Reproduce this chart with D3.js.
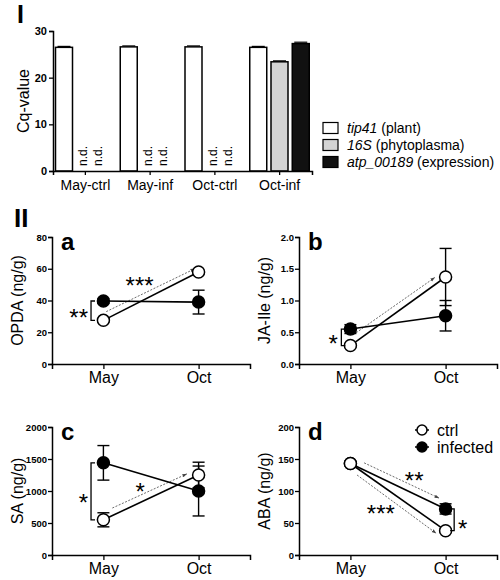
<!DOCTYPE html>
<html><head><meta charset="utf-8">
<script src="https://cdn.jsdelivr.net/npm/d3@7"></script>
<style>body{margin:0;background:#fff}svg{display:block}text{font-family:"Liberation Sans",Arial,sans-serif}</style>
</head><body><svg id="c" width="500" height="580"></svg>
<script>
// ---------- Panel I data ----------
const groups = ["May-ctrl","May-inf","Oct-ctrl","Oct-inf"];
const genes = ["tip41","16S","atp_00189"];
const geneLabels = [["tip41"," (plant)"],["16S"," (phytoplasma)"],["atp_00189"," (expression)"]];
const geneColors = ["#ffffff","#d4d4d4","#111111"];
const tip41Cq = [26.5, 26.6, 26.6, 26.5];
const s16Cq = [null, null, null, 23.4];
const atpCq = [null, null, null, 27.3];
const cqErr = [0.2, 0.2, 0.3];
const cqTicks = [0,10,20,30];

// ---------- Panel II data ----------
const months = ["May","Oct"];
const opdaCtrl = [27.5, 58], opdaCtrlErr = [1, 1];
const opdaInf = [39.7, 39], opdaInfErr = [1.5, 7.5];
const jaCtrl = [0.29, 1.37], jaCtrlErr = [0.03, 0.45];
const jaInf = [0.55, 0.76], jaInfErr = [0.07, 0.24];
const saCtrl = [550, 1250], saCtrlErr = [110, 200];
const saInf = [1440, 1000], saInfErr = [270, 390];
const abaCtrl = [143, 38], abaCtrlErr = [3, 3];
const abaInf = [143, 72], abaInfErr = [3, 8];

const svg = d3.select("#c");
const defs = svg.append("defs");
defs.append("marker").attr("id","ah").attr("viewBox","0 0 10 10").attr("refX",9).attr("refY",5)
  .attr("markerWidth",6).attr("markerHeight",6).attr("orient","auto")
  .append("path").attr("d","M0,1.5 L10,5 L0,8.5 Z").attr("fill","#444");

function styleAxis(g, fs){
  g.selectAll(".domain").attr("stroke","#000").attr("stroke-width",1.5);
  g.selectAll(".tick line").attr("stroke","#000").attr("stroke-width",1.3);
  g.selectAll(".tick text").attr("font-size",fs).attr("font-weight","bold").attr("fill","#000")
   .attr("font-family","'Liberation Sans',Arial,sans-serif");
}

// ---------- Panel I ----------
svg.append("text").attr("x",17).attr("y",23).attr("font-size",25).attr("font-weight","bold").text("I");
const yI = d3.scaleLinear().domain([0,30]).range([171,31]);
const xI = d3.scaleBand().domain(groups).range([53,312]);
const xInner = d3.scaleBand().domain(genes).range([2.5,62]).paddingInner(0.2).paddingOuter(0);
const gI = svg.append("g");
const barData = [];
groups.forEach((g,i)=>{
  [tip41Cq, s16Cq, atpCq].forEach((arr,j)=>{ if(arr[i]!=null) barData.push({g, gene:genes[j], v:arr[i], e:cqErr[j], c:geneColors[j]}); });
});
gI.selectAll("line.err").data(barData).join("line")
  .attr("x1",d=>xI(d.g)+xInner(d.gene)+2).attr("x2",d=>xI(d.g)+xInner(d.gene)+xInner.bandwidth()-2)
  .attr("y1",d=>yI(d.v+d.e)).attr("y2",d=>yI(d.v+d.e)).attr("stroke","#000").attr("stroke-width",1.2);
gI.selectAll("rect").data(barData).join("rect")
  .attr("x",d=>xI(d.g)+xInner(d.gene)).attr("width",xInner.bandwidth())
  .attr("y",d=>yI(d.v)).attr("height",d=>yI(0)-yI(d.v))
  .attr("fill",d=>d.c).attr("stroke","#000").attr("stroke-width",1.5);
// n.d. labels
groups.forEach((g,i)=>{
  [[s16Cq,34],[atpCq,49]].forEach(([arr,off])=>{
    if(arr[i]==null){
      gI.append("text").attr("transform",`translate(${xI(g)+off},${yI(0)-5}) rotate(-90)`)
        .attr("font-size",12).text("n.d.");
    }
  });
});
const axYI = svg.append("g").attr("transform","translate(53,0)").call(d3.axisLeft(yI).tickValues(cqTicks).tickSize(4).tickPadding(2));
styleAxis(axYI, 11);
const axXI = svg.append("g").attr("transform",`translate(0,${yI(0)})`).call(d3.axisBottom(xI).tickSize(4).tickPadding(5));
styleAxis(axXI, 14);
axXI.selectAll(".tick text").attr("font-weight","normal");
svg.append("text").attr("transform","translate(29,101) rotate(-90)").attr("text-anchor","middle").attr("font-size",16).text("Cq-value");
// legend
const legI = svg.append("g");
geneLabels.forEach((lab,i)=>{
  const y = 128 + i*17;
  legI.append("rect").attr("x",323).attr("y",y-5.5).attr("width",15).attr("height",11)
    .attr("fill",geneColors[i]).attr("stroke","#000").attr("stroke-width",1.2);
  const t = legI.append("text").attr("x",347).attr("y",y+5).attr("font-size",14);
  t.append("tspan").attr("font-style","italic").text(lab[0]);
  t.append("tspan").text(lab[1]);
});

// ---------- Panel II ----------
svg.append("text").attr("x",14).attr("y",227).attr("font-size",26).attr("font-weight","bold").text("II");

function panel(o){
  const {x0, yBase, yTop, dom, ticks, fmt, ctrl, ctrlErr, inf, infErr, ylab, letter} = o;
  const g = svg.append("g");
  const y = d3.scaleLinear().domain(dom).range([yBase, yTop]);
  const x = d3.scalePoint().domain(months).range([x0, x0+198]).padding(0.54);
  const xi = t => x("May") + t*(x("Oct")-x("May"));
  const ay = g.append("g").attr("transform",`translate(${x0},0)`).call(d3.axisLeft(y).tickValues(ticks).tickFormat(fmt).tickSize(4).tickPadding(1));
  styleAxis(ay, 9.5);
  const ax = g.append("g").attr("transform",`translate(0,${yBase})`).call(d3.axisBottom(x).tickSize(5).tickPadding(3));
  styleAxis(ax, 16);
  ax.selectAll(".tick text").attr("font-weight","normal");
  g.append("text").attr("transform",`translate(${x0-29},${(yBase+yTop)/2}) rotate(-90)`)
    .attr("text-anchor","middle").attr("font-size",16).text(ylab);
  g.append("text").attr("x",x0+9).attr("y",yTop+13).attr("font-size",24).attr("font-weight","bold").text(letter);
  (o.arrows||[]).forEach(a=>{
    g.append("line").attr("x1",xi(a[0])).attr("y1",y(a[1])).attr("x2",xi(a[2])).attr("y2",y(a[3]))
      .attr("stroke","#444").attr("stroke-width",0.8).attr("stroke-dasharray","2,1.5").attr("marker-end","url(#ah)");
  });
  const series = [{v:inf,e:infErr,fill:"#000"},{v:ctrl,e:ctrlErr,fill:"#fff"}];
  series.forEach(s=>{
    const pts = months.map((m,i)=>({x:x(m), v:s.v[i], e:s.e[i]}));
    pts.forEach(p=>{
      g.append("line").attr("x1",p.x).attr("x2",p.x).attr("y1",y(p.v-p.e)).attr("y2",y(p.v+p.e)).attr("stroke","#000").attr("stroke-width",1.4);
      [p.v-p.e,p.v+p.e].forEach(v=>g.append("line").attr("x1",p.x-6).attr("x2",p.x+6).attr("y1",y(v)).attr("y2",y(v)).attr("stroke","#000").attr("stroke-width",1.4));
    });
    g.append("path").attr("d",d3.line().x(p=>p.x).y(p=>y(p.v))(pts)).attr("stroke","#000").attr("stroke-width",1.6).attr("fill","none");
  });
  series.forEach(s=>{
    months.forEach((m,i)=>{
      g.append("circle").attr("cx",x(m)).attr("cy",y(s.v[i])).attr("r",6).attr("fill",s.fill).attr("stroke","#000").attr("stroke-width",1.5);
    });
  });
  (o.brackets||[]).forEach(b=>{
    const bx = xi(b.t), dir = b.dir;
    const ya = y(b.a), yb = y(b.b);
    g.append("path").attr("d",`M${bx+dir*4},${ya} H${bx} V${yb} H${bx+dir*4}`).attr("fill","none").attr("stroke","#000").attr("stroke-width",1.3);
  });
  (o.stars||[]).forEach(s=>{
    g.append("text").attr("x",xi(s[0])).attr("y",y(s[1])+14).attr("text-anchor","middle").attr("font-size",24).text(s[2]);
  });
  return {g, x, y, xi};
}

panel({x0:52, yBase:364, yTop:237, dom:[0,80], ticks:[0,20,40,60,80], fmt:d3.format("d"),
  ctrl:opdaCtrl, ctrlErr:opdaCtrlErr, inf:opdaInf, infErr:opdaInfErr, ylab:"OPDA (ng/g)", letter:"a",
  arrows:[[0.03,33,0.96,60]],
  brackets:[{t:-0.13,a:27.5,b:39.7,dir:1}],
  stars:[[-0.26,32.8,"**"],[0.38,53,"***"]]});

panel({x0:299, yBase:364, yTop:237, dom:[0,2], ticks:[0,0.5,1,1.5,2], fmt:d3.format(".1f"),
  ctrl:jaCtrl, ctrlErr:jaCtrlErr, inf:jaInf, infErr:jaInfErr, ylab:"JA-Ile (ng/g)", letter:"b",
  arrows:[[0.03,0.46,0.885,1.36]],
  brackets:[{t:-0.095,a:0.29,b:0.55,dir:1}],
  stars:[[-0.18,0.41,"*"]]});

panel({x0:52, yBase:555, yTop:427, dom:[0,2000], ticks:[0,500,1000,1500,2000], fmt:d3.format("d"),
  ctrl:saCtrl, ctrlErr:saCtrlErr, inf:saInf, infErr:saInfErr, ylab:"SA (ng/g)", letter:"c",
  arrows:[[0.094,734,0.875,1266]],
  brackets:[{t:-0.13,a:550,b:1440,dir:1}],
  stars:[[-0.21,906,"*"],[0.385,1078,"*"]]});

panel({x0:299, yBase:555, yTop:427, dom:[0,200], ticks:[0,50,100,150,200], fmt:d3.format("d"),
  ctrl:abaCtrl, ctrlErr:abaCtrlErr, inf:abaInf, infErr:abaInfErr, ylab:"ABA (ng/g)", letter:"d",
  arrows:[[0.144,144,0.93,89],[0.07,125,0.90,34]],
  brackets:[{t:1.09,a:38,b:72,dir:-1}],
  stars:[[0.67,125,"**"],[0.32,73,"***"],[1.18,50,"*"]]});

// legend panel d
const legD = svg.append("g");
[["ctrl","#fff"],["infected","#000"]].forEach((l,i)=>{
  const y = 430 + i*17;
  legD.append("line").attr("x1",415).attr("x2",429).attr("y1",y).attr("y2",y).attr("stroke","#000").attr("stroke-width",1.5);
  legD.append("circle").attr("cx",422).attr("cy",y).attr("r",5).attr("fill",l[1]).attr("stroke","#000").attr("stroke-width",1.5);
  legD.append("text").attr("x",437).attr("y",y+6).attr("font-size",16).text(l[0]);
});
</script></body></html>
